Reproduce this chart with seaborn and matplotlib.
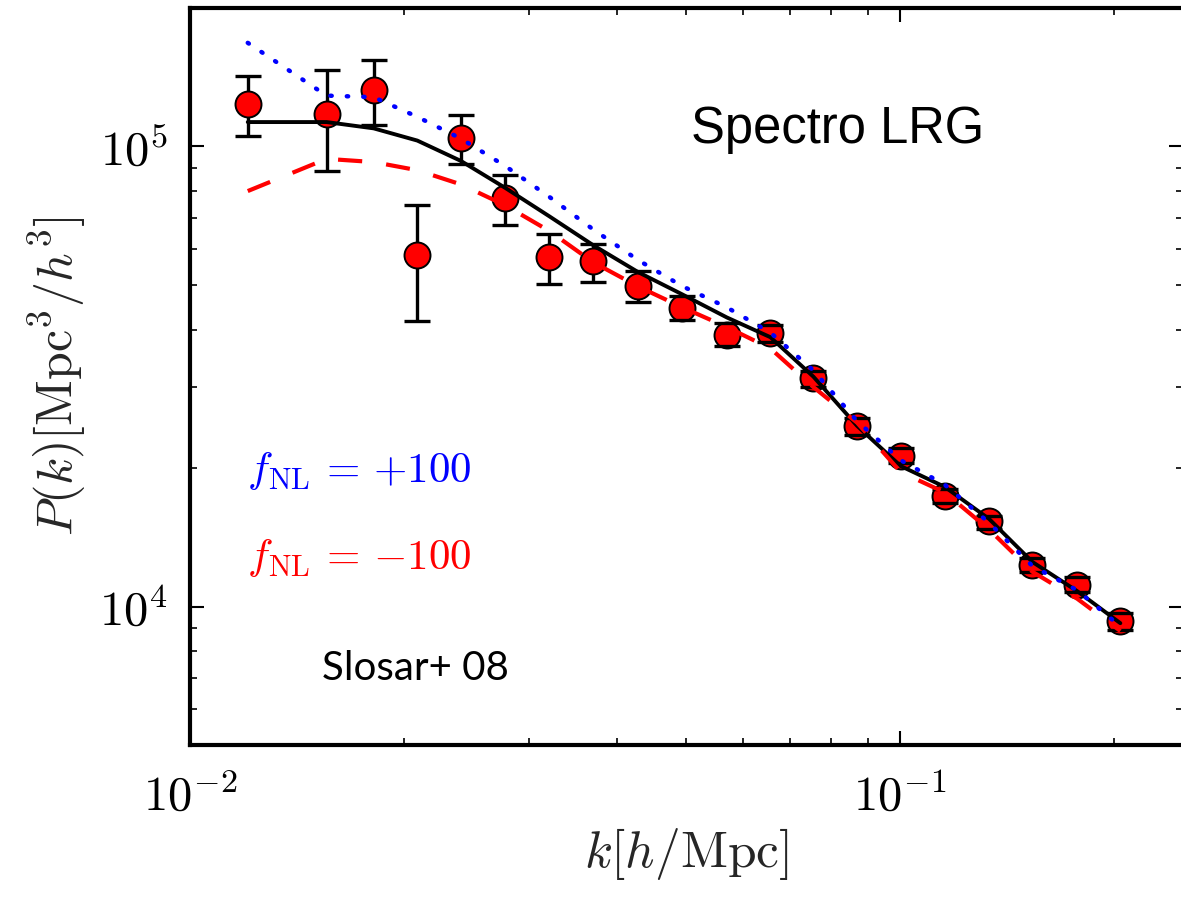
import numpy as np
import pandas as pd
import matplotlib
matplotlib.use("Agg")
import matplotlib.pyplot as plt
import seaborn as sns
from matplotlib.ticker import LogLocator, NullFormatter

# ---------------- data ----------------
k = [0.01206, 0.01557, 0.01814, 0.0209, 0.02408, 0.02779, 0.03207, 0.03698,
     0.04279, 0.04935, 0.05702, 0.06567, 0.0755, 0.0870, 0.1002, 0.1156,
     0.1335, 0.1536, 0.1776, 0.2043]
P_data = [1.238e5, 1.178e5, 1.330e5, 5.816e4, 1.044e5, 7.71e4, 5.746e4, 5.63e4,
          4.97e4, 4.45e4, 3.90e4, 3.936e4, 3.136e4, 2.466e4, 2.123e4, 1.737e4,
          1.532e4, 1.234e4, 1.116e4, 9.29e3]
P_hi = [1.421e5, 1.465e5, 1.540e5, 7.455e4, 1.168e5, 8.66e4, 6.46e4, 6.14e4,
        5.37e4, 4.74e4, 4.137e4, 4.082e4, 3.258e4, 2.563e4, 2.206e4, 1.803e4,
        1.577e4, 1.276e4, 1.158e4, 9.66e3]
P_lo = [1.053e5, 8.85e4, 1.115e5, 4.165e4, 9.18e4, 6.745e4, 5.03e4, 5.07e4,
        4.59e4, 4.19e4, 3.68e4, 3.754e4, 3.003e4, 2.365e4, 2.046e4, 1.675e4,
        1.471e4, 1.188e4, 1.076e4, 8.91e3]
P_fid = [1.13e5, 1.13e5, 1.095e5, 1.03e5, 9.3e4, 8.13e4, 7.05e4, 6.1e4,
         5.33e4, 4.77e4, 4.25e4, 3.85e4, 3.16e4, 2.47e4, 2.02e4, 1.82e4,
         1.55e4, 1.25e4, 1.08e4, 9.2e3]
P_plus = [1.68e5, 1.29e5, 1.28e5, 1.16e5, 1.04e5, 9.07e4, 7.77e4, 6.6e4,
          5.66e4, 4.97e4, 4.47e4, 3.94e4, 3.26e4, 2.53e4, 2.08e4, 1.84e4,
          1.52e4, 1.225e4, 1.085e4, 9.05e3]
P_minus = [8.0e4, 9.4e4, 9.25e4, 8.88e4, 8.27e4, 7.45e4, 6.55e4, 5.6e4,
           4.96e4, 4.47e4, 4.05e4, 3.64e4, 3.0e4, 2.51e4, 1.96e4, 1.77e4,
           1.47e4, 1.19e4, 1.04e4, 8.85e3]

x_ticks = [0.01, 0.1]
x_ticklabels = [r"$10^{-2}$", r"$10^{-1}$"]
y_ticks = [1e4, 1e5]
y_ticklabels = [r"$10^4$", r"$10^5$"]

df = pd.DataFrame({"k": k, "P": P_data, "fid": P_fid, "plus": P_plus,
                   "minus": P_minus})

# ---------------- style ----------------
sns.set_theme(style="ticks")
plt.rcParams["mathtext.fontset"] = "cm"
plt.rcParams["font.family"] = ["DejaVu Sans"]

W, H = 1181, 898
fig = plt.figure(figsize=(W / 100, H / 100), dpi=100)
ax = fig.add_axes([190 / W, 1 - 745 / H, (1182.6 - 190) / W, 737 / H])
ax.set_xscale("log")
ax.set_yscale("log")

# error bars (vertical bars behind markers, caps on top)
eb = ax.errorbar(df["k"], df["P"],
                 yerr=[np.array(P_data) - np.array(P_lo),
                       np.array(P_hi) - np.array(P_data)],
                 fmt="none", ecolor="black", elinewidth=2.4, capsize=9.5,
                 capthick=2.4, zorder=1)
for cap in eb[1]:
    cap.set_zorder(3)

sns.scatterplot(data=df, x="k", y="P", ax=ax, s=350, color="red",
                edgecolor="black", linewidth=1.4, zorder=2, legend=False)

sns.lineplot(data=df, x="k", y="fid", ax=ax, color="black", lw=2.8,
             sort=False, estimator=None, zorder=4)
sns.lineplot(data=df, x="k", y="minus", ax=ax, color="red", lw=3.0,
             sort=False, estimator=None, zorder=4)
ax.lines[-1].set_dashes((5.8, 5.8))
sns.lineplot(data=df, x="k", y="plus", ax=ax, color="blue", lw=3.2,
             sort=False, estimator=None, zorder=4)
ax.lines[-1].set_dashes((0.3, 3.4))
ax.lines[-1].set_dash_capstyle("round")

ax.set_xlim(0.01, 0.25)
ax.set_ylim(5000, 2e5)

ax.xaxis.set_minor_locator(LogLocator(base=10, subs=np.arange(2, 10), numticks=20))
ax.yaxis.set_minor_locator(LogLocator(base=10, subs=np.arange(2, 10), numticks=20))
ax.set_xticks(x_ticks)
ax.set_xticklabels(x_ticklabels)
ax.set_yticks(y_ticks)
ax.set_yticklabels(y_ticklabels)
ax.xaxis.set_minor_formatter(NullFormatter())
ax.yaxis.set_minor_formatter(NullFormatter())

ax.tick_params(which="both", direction="in", top=True, right=True,
               colors="black")
ax.tick_params(which="major", length=10, width=1.5, labelsize=35)
ax.tick_params(which="minor", length=5, width=1.2)
ax.tick_params(axis="x", which="major", pad=20)
ax.tick_params(axis="y", which="major", pad=16)

for sp in ax.spines.values():
    sp.set_linewidth(3)
    sp.set_color("black")

ax.set_xlabel(r"$k[h/{\rm Mpc}]$", fontsize=37, labelpad=4)
ax.set_ylabel(r"$P(k)[{\rm Mpc}^3/h^3]$", fontsize=36, labelpad=8)

ax.text(838 / W, 1 - 130 / H, "Spectro LRG", transform=fig.transFigure,
        fontsize=36.5, family="Liberation Sans", ha="center", va="center",
        color="black")
ax.text(415 / W, 1 - 668 / H, "Slosar+ 08", transform=fig.transFigure,
        fontsize=29, family="Lato", ha="center", va="center", color="black")
ax.text(247 / W, 1 - 471 / H, r"$f_{\rm NL}\,=\,{+100}$", transform=fig.transFigure,
        fontsize=31, ha="left", va="center", color="blue")
ax.text(247 / W, 1 - 558 / H, r"$f_{\rm NL}\,=\,{-100}$", transform=fig.transFigure,
        fontsize=31, ha="left", va="center", color="red")

fig.savefig("out.png", dpi=100)
